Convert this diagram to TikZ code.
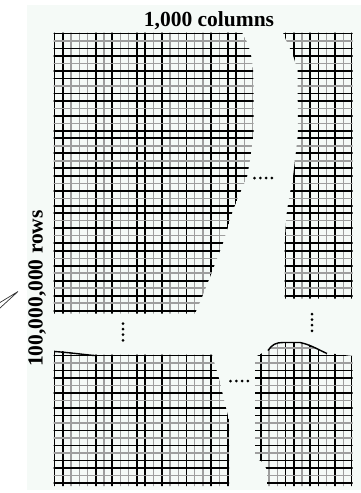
\documentclass[tikz,border=0pt]{standalone}
\usepackage{fontspec}
\setmainfont{Liberation Serif}
\definecolor{bgc}{RGB}{245,250,247}
\newcommand{\mygridlines}{%
  \foreach \i/\s in {0/blk,1/blk,2/gry,3/gry,4/gry,5/blk,6/gry,7/blk,8/gry,9/gry,10/blk,11/blk,12/gry,13/blk,14/gry,15/gry,16/blk,17/gry,18/gry,19/blk,20/gry,21/blk,22/blk,23/gry,24/gry,25/blk,26/gry,27/gry,28/blk,29/blk,30/gry,31/blk,32/blk,33/gry,34/blk,35/gry,36/blk}
    {\draw[\s] ({54.5+8.25*\i},28) -- ({54.5+8.25*\i},490);}
  \foreach \j/\s in {0/blk,1/gry,2/blk,3/blk,4/gry,5/blk,6/blk,7/gry,8/blk,9/blk,10/gry,11/blk,12/gry,13/blk,14/blk,15/gry,16/blk,17/gry,18/blk,19/blk,20/gry,21/blk,22/gry,23/blk,24/blk,25/gry,26/blk,27/gry,28/blk,29/blk,30/gry,31/blk,32/gry,33/blk,34/gry,35/blk,36/gry,37/blk,38/gry,39/blk,40/gry,41/blk,42/gry,43/blk,44/gry,45/blk,46/blk,47/gry,48/blk,49/gry,50/blk,51/blk,52/gry,53/blk,54/gry,55/blk,56/gry,57/blk,58/blk,59/gry,60/blk}
    {\draw[\s] (50,{33.5+7.49*\j}) -- (356,{33.5+7.49*\j});}
}
\begin{document}
\begin{tikzpicture}[x=1pt,y=-1pt,
  blk/.style={line width=1.8pt,black},
  gry/.style={line width=1.4pt,black!38},
  edgeline/.style={line width=1.4pt,black},
  wedge/.style={line width=0.7pt,black!80},
  dotfill/.style={fill=black}]
\useasboundingbox (0,0) rectangle (361,493);
\fill[bgc] (27,5) rectangle (361,490);
% upper-left block
\begin{scope}
  \clip (53.5,32.5) -- (242,32.5) .. controls (250,45) and (253,60) .. (253.5,80)
    -- (253.5,133) -- (250,160) -- (247,177) -- (240,193) -- (233,210)
    -- (223,243) -- (210,277) -- (200,302) -- (195,313.5) -- (53.5,313.5) -- cycle;
  \mygridlines
\end{scope}
% upper-right block
\begin{scope}
  \clip (283,32.5) -- (352.5,32.5) -- (352.5,298.5) -- (284.5,298.5) -- (284.5,242)
    -- (287,210) -- (290,193) -- (293,177) -- (295,160) -- (298,133) -- (297.5,70)
    -- (293,55) -- (286,40) -- cycle;
  \mygridlines
\end{scope}
% lower-left block
\begin{scope}
  \clip (53.5,350.5) .. controls (75,352) and (90,354.5) .. (97,354.6) -- (212,354.6)
    -- (220,382) -- (224,400) -- (229,420) -- (229,486) -- (53.5,486) -- cycle;
  \mygridlines
\end{scope}
% lower-right block
\begin{scope}
  \clip (255,357) -- (268,350) .. controls (272,344) and (276,342) .. (283,342) -- (300,342)
    .. controls (310,344) and (318,349) .. (327,353) -- (352.5,356) -- (352.5,486)
    -- (267,486) -- (267,470) -- (263,462) -- (255,458) -- cycle;
  \mygridlines
\end{scope}
% top edge lines of lower blocks
\draw[edgeline] (54.5,351.5) .. controls (75,353) and (90,355.5) .. (97,355.6);
\draw[edgeline] (268,350.5) .. controls (272,344.5) and (276,342.5) .. (283,342.5) -- (300,342.5)
    .. controls (310,344.5) and (318,349.5) .. (327,353.5);
% dots
\foreach \k in {0,1,2,3} {
  \fill[dotfill] ({254.5+5.8*\k},178) circle (1.5);
  \fill[dotfill] ({230.5+5.8*\k},381) circle (1.5);
  \fill[dotfill] (123,{323.5+5.6*\k}) circle (1.5);
  \fill[dotfill] (312,{314+5.6*\k}) circle (1.5);
}
% labels
\node[font=\bfseries\fontsize{21.5}{24}\selectfont,anchor=base,inner sep=0pt] (cols) at (209,26.7) {1,000 columns};
\node[font=\bfseries\fontsize{21.5}{24}\selectfont,anchor=base,rotate=90,inner sep=0pt] (rows) at (42.5,288.5) {100,000,000 rows};
% wedge pointer
\coordinate (wtip) at (18,291.5);
\coordinate (wa) at (0,302.5);
\coordinate (wb) at (0,308);
\draw[wedge] (wa) -- (wtip) -- (wb);
\end{tikzpicture}
\end{document}
